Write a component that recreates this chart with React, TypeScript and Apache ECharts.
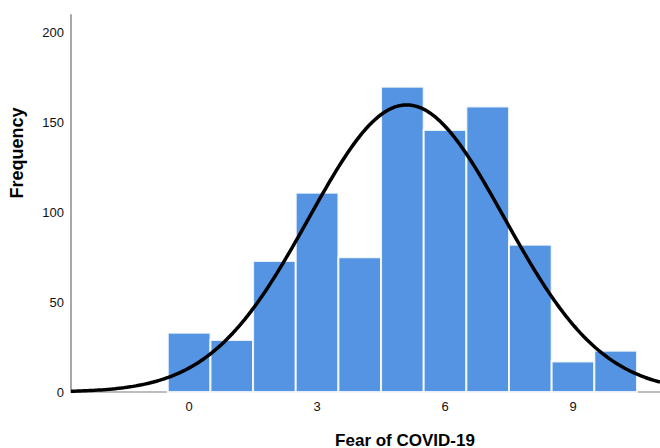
import React, { useEffect, useRef } from "react";
import * as echarts from "echarts";

// Histogram bins (Fear of COVID-19 score) and frequencies
const binCenters = [0, 1, 2, 3, 4, 5, 6, 7, 8, 9, 10];
const frequencies = [33, 29, 73, 111, 75, 170, 146, 159, 82, 17, 23];
const xTickValues = [0, 3, 6, 9];
const yTickValues = [0, 50, 100, 150, 200];

// Fitted normal curve parameters
const curveMean = 5.1;
const curveSd = 2.29;
const curveN = 918;
const binWidth = 1;

const X_MIN = -2.77;
const X_MAX = 11.04;
const Y_MAX = 210;

function normalCurve(): number[][] {
  const pts: number[][] = [];
  const steps = 200;
  for (let i = 0; i <= steps; i++) {
    const x = X_MIN + ((X_MAX - X_MIN) * i) / steps;
    const z = (x - curveMean) / curveSd;
    const y = (curveN * binWidth) / (curveSd * Math.sqrt(2 * Math.PI)) * Math.exp(-0.5 * z * z);
    pts.push([x, y]);
  }
  return pts;
}

export default function App() {
  const ref = useRef<HTMLDivElement>(null);
  useEffect(() => {
    if (!ref.current) return;
    const chart = echarts.init(ref.current, null, { renderer: "svg" });
    const font = "'Liberation Sans', Arial, sans-serif";
    chart.setOption({
      animation: false,
      backgroundColor: "#ffffff",
      grid: { left: 71, right: 0, top: 15, bottom: 56, containLabel: false },
      xAxis: {
        type: "value",
        min: X_MIN,
        max: X_MAX,
        axisLine: { show: true, onZero: false, lineStyle: { color: "#a8a8a8", width: 1.5 } },
        axisTick: { show: false },
        splitLine: { show: false },
        axisLabel: {
          customValues: xTickValues,
          color: "#111",
          fontSize: 13,
          fontFamily: font,
          margin: 8,
        },
      },
      yAxis: {
        type: "value",
        min: 0,
        max: Y_MAX,
        axisLine: { show: true, onZero: false, lineStyle: { color: "#a8a8a8", width: 2 } },
        axisTick: { show: false },
        splitLine: { show: false },
        axisLabel: {
          customValues: yTickValues,
          color: "#111",
          fontSize: 13,
          fontFamily: font,
          margin: 7,
        },
      },
      graphic: [
        {
          type: "text",
          x: 17,
          y: 153,
          rotation: Math.PI / 2,
          style: {
            text: "Frequency",
            font: `bold 18px ${font}`,
            fill: "#000",
            align: "center",
            verticalAlign: "middle",
          },
        },
        {
          type: "text",
          x: 405,
          y: 440,
          style: {
            text: "Fear of COVID-19",
            font: `bold 17px ${font}`,
            fill: "#000",
            align: "center",
            verticalAlign: "middle",
          },
        },
      ],
      series: [
        {
          type: "custom",
          data: binCenters.map((c, i) => [c, frequencies[i]]),
          renderItem: (params: any, api: any) => {
            const c = api.value(0);
            const f = api.value(1);
            const p0 = api.coord([c - binWidth / 2, f]);
            const p1 = api.coord([c + binWidth / 2, 0]);
            return {
              type: "rect",
              shape: { x: p0[0], y: p0[1], width: p1[0] - p0[0], height: p1[1] - p0[1] },
              style: { fill: "#5594e2", stroke: "rgba(255,255,255,0.85)", lineWidth: 2 },
            };
          },
          z: 2,
        },
        {
          type: "line",
          data: normalCurve(),
          showSymbol: false,
          symbol: "none",
          smooth: false,
          lineStyle: { color: "#000", width: 3.5 },
          z: 5,
        },
      ],
    });
    return () => chart.dispose();
  }, []);
  return <div ref={ref} style={{ width: 660, height: 448, position: "absolute", left: 0, top: 0 }} />;
}
